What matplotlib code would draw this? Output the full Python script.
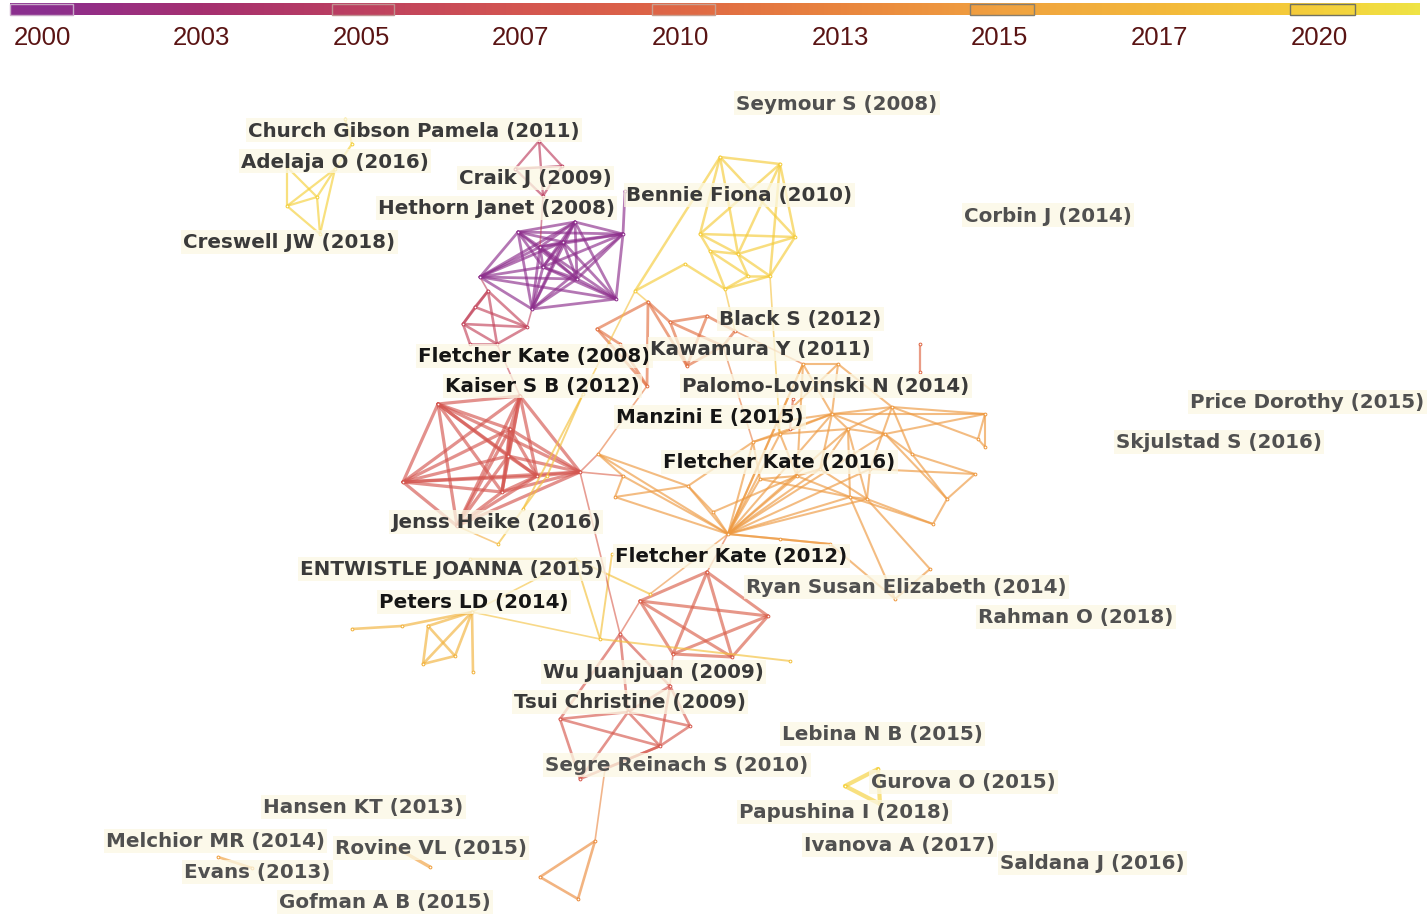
import itertools
import numpy as np
import matplotlib.pyplot as plt
from matplotlib.colors import LinearSegmentedColormap
from matplotlib.patches import Rectangle

# ---- colour scale (years on the top bar)
tick_years = [2000, 2003, 2005, 2007, 2010, 2013, 2015, 2017, 2020]
anchor_years = [2000, 2001.5, 2003, 2005, 2007, 2010, 2013, 2015, 2017, 2020, 2021.5]
anchor_colors = ['#8a2e8e', '#9a2f80', '#a5306f', '#bd4060', '#d45650', '#df6745',
                 '#e9853e', '#f0a040', '#f3b83b', '#f5cf3a', '#efe345']

# ---- network: node positions (layout units) and year per cluster
purple_x = [480, 518, 540, 575, 543, 577, 623, 616, 532, 563, 625]
purple_y = [278, 233, 248, 223, 268, 280, 235, 300, 310, 243, 192]
purple_year = 2000.3

craik_x = [539, 515, 562, 543]
craik_y = [142, 170, 167, 197]
craik_year = 2005

fk08_x = [488, 463, 475, 497, 527, 470]
fk08_y = [292, 325, 308, 345, 328, 345]
fk08_year = 2005.5

red_x = [438, 520, 403, 502, 580, 537, 510, 508, 457]
red_y = [405, 397, 483, 493, 473, 477, 430, 457, 527]
red_year = 2007

opink_x = [597, 648, 647, 670, 707, 687, 723, 735, 620]
opink_y = [330, 303, 387, 323, 317, 367, 347, 332, 345]
opink_year = 2011

ytop_x = [720, 780, 700, 795, 710, 738, 748, 770, 725, 685, 635]
ytop_y = [158, 165, 235, 238, 252, 255, 277, 277, 290, 265, 292]
ytop_year = 2019.5

adelaja_x = [287, 287, 335, 317, 320, 345, 352]
adelaja_y = [207, 168, 170, 198, 235, 120, 145]
adelaja_year = 2020

big_x = [832, 848, 892, 885, 978, 985, 985, 912, 975, 947, 933, 867, 850, 797, 728, 780,
         803, 838, 598, 688, 623, 713, 615, 753, 777, 760, 820, 895, 930, 780, 830, 870]
big_y = [415, 430, 408, 435, 440, 415, 448, 455, 475, 500, 525, 500, 498, 477, 535, 435,
         365, 365, 455, 487, 477, 513, 498, 443, 423, 480, 470, 600, 570, 540, 545, 470]
big_year = 2014.5

kate12_x = [707, 640, 768, 673, 732]
kate12_y = [573, 602, 617, 655, 658]
kate12_year = 2008.5

tsui_x = [560, 580, 620, 628, 690, 660, 670, 605]
tsui_y = [720, 780, 635, 713, 727, 747, 687, 770]
tsui_year = 2007.5

peters_x = [472, 428, 423, 455, 402, 352, 473]
peters_y = [613, 627, 665, 657, 627, 630, 673]
peters_year = 2016.5

stray_x = [583, 547, 523, 498, 600, 790, 575, 650, 470, 612]
stray_y = [395, 477, 510, 545, 640, 662, 560, 595, 560, 555]
stray_year = 2018

stub_x = [920, 920, 793, 790]
stub_y = [345, 373, 400, 430]
stub_year = 2010

gurova_x = [845, 878, 880]
gurova_y = [787, 770, 805]
gurova_year = 2020

rovine_x = [393, 430]
rovine_y = [847, 868]
rovine_year = 2015

melchior_x = [218, 252]
melchior_y = [858, 869]
melchior_year = 2015

bottom_x = [540, 595, 578]
bottom_y = [878, 842, 900]
bottom_year = 2013.5

# edges inside clusters
purple_edges = [e for e in itertools.combinations(range(10), 2) if e not in [(0, 6), (1, 7)]] + [(6, 10)]
craik_edges = list(itertools.combinations(range(4), 2))
fk08_edges = [(0, 1), (0, 2), (1, 2), (1, 3), (0, 3), (2, 4), (3, 4), (1, 4), (0, 4), (5, 3), (5, 1)]
red_edges = list(itertools.combinations(range(9), 2))
opink_edges = [(0, 1), (1, 2), (0, 2), (1, 3), (3, 4), (4, 7), (3, 5), (4, 5), (5, 6), (3, 6),
               (6, 7), (1, 5), (0, 8), (8, 2)]
ytop_edges = [(0, 1), (0, 2), (0, 3), (1, 3), (1, 2), (2, 3), (0, 5), (1, 5), (2, 5), (3, 5),
              (2, 4), (4, 5), (4, 6), (5, 6), (5, 7), (6, 7), (4, 8), (8, 7), (3, 7), (9, 10),
              (8, 9), (0, 10), (6, 8), (1, 7)]
adelaja_edges = [(0, 1), (1, 3), (0, 2), (0, 3), (2, 3), (2, 4), (3, 4), (0, 4), (2, 6), (6, 5)]
big_edges = [(0, 2), (0, 5), (2, 5), (2, 4), (4, 5), (5, 6), (4, 6), (1, 3), (3, 5), (0, 1),
             (1, 2), (3, 7), (7, 8), (8, 9), (7, 9), (3, 9), (9, 10), (10, 12), (11, 12),
             (10, 11), (1, 11), (1, 12), (13, 14), (14, 15), (14, 12), (14, 23), (14, 24),
             (14, 0), (14, 1), (14, 25), (14, 19), (14, 21), (14, 18), (14, 22), (14, 20),
             (15, 24), (24, 0), (23, 25), (16, 17), (16, 0), (17, 0), (24, 16), (18, 19),
             (18, 20), (19, 21), (20, 22), (22, 19), (0, 26), (26, 1), (26, 14), (13, 26),
             (14, 29), (29, 30), (30, 27), (12, 27), (27, 28), (11, 28), (0, 3), (13, 15),
             (31, 2), (31, 8), (31, 11), (13, 12), (25, 13), (23, 15), (0, 15), (2, 7),
             (17, 2), (16, 13), (14, 30), (14, 11), (14, 3), (14, 31), (14, 16), (23, 0),
             (25, 12), (15, 1), (26, 11), (24, 17), (21, 13), (19, 23)]
kate12_edges = list(itertools.combinations(range(5), 2))
tsui_edges = [(0, 3), (0, 2), (2, 3), (3, 4), (3, 5), (4, 5), (6, 4), (6, 5), (3, 6), (0, 1),
              (1, 3), (1, 5), (2, 6), (7, 5), (0, 5)]
peters_edges = [(0, 1), (0, 2), (0, 3), (1, 2), (1, 3), (2, 3), (0, 4), (4, 5), (0, 6)]
stray_edges = [(0, 1), (0, 2), (1, 2), (2, 3), (4, 5), (6, 7), (8, 6), (9, 4), (6, 4)]
stub_edges = [(0, 1), (2, 3)]
gurova_edges = [(0, 1), (0, 2), (1, 2)]
pair_edges = [(0, 1)]
bottom_edges = [(0, 1), (1, 2), (0, 2)]

# links between clusters: (cluster, node, cluster, node, year)
cross_links = [
    ('craik', 3, 'purple', 2, 2005), ('fk08', 0, 'purple', 0, 2005),
    ('fk08', 4, 'purple', 8, 2005), ('fk08', 3, 'red', 1, 2006),
    ('red', 4, 'big', 18, 2009), ('red', 4, 'big', 20, 2009),
    ('red', 4, 'tsui', 2, 2008), ('ytop', 10, 'opink', 1, 2018),
    ('ytop', 7, 'big', 15, 2018), ('ytop', 8, 'opink', 7, 2018),
    ('opink', 7, 'big', 16, 2012), ('opink', 2, 'big', 18, 2012),
    ('opink', 6, 'big', 23, 2012), ('big', 14, 'kate12', 0, 2011),
    ('kate12', 1, 'tsui', 2, 2009), ('kate12', 3, 'tsui', 6, 2009),
    ('tsui', 7, 'bottom', 1, 2013), ('peters', 0, 'stray', 4, 2018),
    ('peters', 0, 'stray', 6, 2018), ('ytop', 10, 'stray', 0, 2018),
    ('big', 14, 'stray', 7, 2014), ('red', 8, 'stray', 3, 2016),
]

# labels
label_text = ['Seymour S (2008)', 'Church Gibson Pamela (2011)', 'Adelaja O (2016)', 'Craik J (2009)',
              'Hethorn Janet (2008)', 'Bennie Fiona (2010)', 'Corbin J (2014)', 'Creswell JW (2018)',
              'Black S (2012)', 'Fletcher Kate (2008)', 'Kawamura Y (2011)', 'Kaiser S B (2012)',
              'Palomo-Lovinski N (2014)', 'Price Dorothy (2015)', 'Manzini E (2015)',
              'Skjulstad S (2016)', 'Fletcher Kate (2016)', 'Jenss Heike (2016)',
              'Fletcher Kate (2012)', 'ENTWISTLE JOANNA (2015)', 'Ryan Susan Elizabeth (2014)',
              'Peters LD (2014)', 'Rahman O (2018)', 'Wu Juanjuan (2009)', 'Tsui Christine (2009)',
              'Lebina N B (2015)', 'Segre Reinach S (2010)', 'Gurova O (2015)', 'Hansen KT (2013)',
              'Papushina I (2018)', 'Melchior MR (2014)', 'Rovine VL (2015)', 'Ivanova A (2017)',
              'Saldana J (2016)', 'Evans (2013)', 'Gofman A B (2015)']
label_x = [736, 248, 241, 459, 378, 626, 964, 183, 719, 418, 650, 445, 682, 1190, 616, 1116, 663,
           391, 615, 300, 746, 379, 978, 543, 514, 782, 545, 871, 263, 739, 106, 335, 804, 1000,
           184, 279]
label_y = [104, 131, 162, 179, 209, 196, 216, 243, 320, 357, 350, 387, 387, 403, 418, 443, 463,
           523, 557, 570, 588, 603, 618, 673, 703, 735, 766, 783, 808, 813, 842, 849, 846, 864,
           873, 903]
# 0 = black, 1 = dark grey, 2 = mid grey
label_tone = [2, 1, 1, 1, 1, 1, 2, 1, 1, 0, 1, 0, 1, 2, 0, 2, 0, 1, 0, 1, 2, 0, 2, 1, 1, 2, 2, 2,
              2, 2, 2, 2, 2, 2, 2, 2]

cmap = LinearSegmentedColormap.from_list(
    'yr', list(zip((np.array(anchor_years) - anchor_years[0]) / (anchor_years[-1] - anchor_years[0]),
                   anchor_colors)))


def year_color(y):
    return cmap((y - anchor_years[0]) / (anchor_years[-1] - anchor_years[0]))


clusters = {
    'purple': (purple_x, purple_y, purple_year, purple_edges, 2.0),
    'craik': (craik_x, craik_y, craik_year, craik_edges, 1.7),
    'fk08': (fk08_x, fk08_y, fk08_year, fk08_edges, 1.9),
    'red': (red_x, red_y, red_year, red_edges, 2.3),
    'opink': (opink_x, opink_y, opink_year, opink_edges, 2.0),
    'ytop': (ytop_x, ytop_y, ytop_year, ytop_edges, 1.8),
    'adelaja': (adelaja_x, adelaja_y, adelaja_year, adelaja_edges, 1.6),
    'big': (big_x, big_y, big_year, big_edges, 1.5),
    'kate12': (kate12_x, kate12_y, kate12_year, kate12_edges, 2.2),
    'tsui': (tsui_x, tsui_y, tsui_year, tsui_edges, 1.9),
    'peters': (peters_x, peters_y, peters_year, peters_edges, 1.9),
    'stray': (stray_x, stray_y, stray_year, stray_edges, 1.4),
    'stub': (stub_x, stub_y, stub_year, stub_edges, 1.6),
    'gurova': (gurova_x, gurova_y, gurova_year, gurova_edges, 3.0),
    'rovine': (rovine_x, rovine_y, rovine_year, pair_edges, 2.4),
    'melchior': (melchior_x, melchior_y, melchior_year, pair_edges, 1.9),
    'bottom': (bottom_x, bottom_y, bottom_year, bottom_edges, 1.9),
}

fig = plt.figure(figsize=(14.28, 9.2), dpi=100)
ax = fig.add_axes([0, 0, 1, 1])

# ---- top colour bar
bar_x = np.linspace(10, 1420, 700)
tick_px = np.linspace(42, 1319, len(tick_years))
bar_years = np.interp(bar_x, np.r_[10, tick_px, 1420], np.r_[1999.8, tick_years, 2021.5])
ax.imshow(year_color(bar_years)[np.newaxis, :, :3], extent=(10, 1420, 16, 4), aspect='auto', zorder=1)
for (x0, x1), ec in zip([(10, 73), (332, 394), (652, 715), (970, 1034), (1290, 1355)],
                        ['#c8a8c8', '#c09090', '#c8a090', '#888070', '#707060']):
    ax.add_patch(Rectangle((x0, 4.5), x1 - x0, 11, fill=False, ec=ec, lw=1.0, zorder=2))
for yr, px in zip(tick_years, tick_px):
    ax.text(px, 38, str(yr), ha='center', va='center', fontsize=18.5, color='#5a1414',
            family=['Liberation Sans', 'DejaVu Sans'])

# ---- edges
for name, (xs, ys, yr, edges, lw) in clusters.items():
    col = year_color(yr)
    for a, b in edges:
        ax.plot([xs[a], xs[b]], [ys[a], ys[b]], color=col, lw=lw, alpha=0.65,
                solid_capstyle='round', zorder=3)
for ca, ia, cb, ib, yr in cross_links:
    xa, ya = clusters[ca][0][ia], clusters[ca][1][ia]
    xb, yb = clusters[cb][0][ib], clusters[cb][1][ib]
    ax.plot([xa, xb], [ya, yb], color=year_color(yr), lw=1.2, alpha=0.6, zorder=3)

# ---- nodes (small dots)
for name, (xs, ys, yr, edges, lw) in clusters.items():
    ax.scatter(xs, ys, s=4, facecolor='white', edgecolor=year_color(yr), linewidth=0.7, zorder=4)

# ---- labels
tones = ['#151515', '#3a3a3a', '#505050']
for t, x, y, tone in zip(label_text, label_x, label_y, label_tone):
    ax.text(x, y, t, ha='left', va='center', fontsize=14.3, fontweight='bold',
            color=tones[tone], family='DejaVu Sans', zorder=5,
            bbox=dict(boxstyle='square,pad=0.12', fc='#fbf8e4', ec='none', alpha=0.75))

ax.set_xlim(0, 1428)
ax.set_ylim(920, 0)
ax.axis('off')
fig.savefig('out.png', dpi=100, facecolor='white')
